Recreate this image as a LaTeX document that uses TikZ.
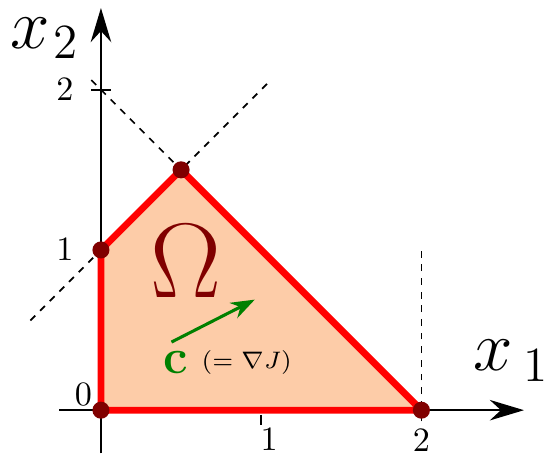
\documentclass[tikz,border=0pt]{standalone}
\usepackage{amsmath,amssymb}
\usetikzlibrary{arrows.meta}
\definecolor{regionfill}{RGB}{253,204,168}
\definecolor{darkred}{RGB}{128,0,0}
\definecolor{vecgreen}{RGB}{0,128,0}

\begin{document}
\begin{tikzpicture}[x=1.65cm, y=1.65cm, every node/.style={font=\normalsize}, >={Stealth[length=10pt,width=6pt]},
	guide/.style={dash pattern=on 2pt off 2pt, line width=0.5pt},
	edge/.style={red, line width=2pt, line join=round}]
	\useasboundingbox (-0.63,-0.27) rectangle (2.79,2.56);
	\coordinate (O) at (0,0);
	\coordinate (A) at (2,0);
	\coordinate (B) at (0.5,1.5);
	\coordinate (C) at (0,1);
	\fill[regionfill] (O) -- (A) -- (B) -- (C) -- cycle;
	% constraint lines
	\coordinate (g1) at (-0.44,0.56);
	\coordinate (g2) at (1.06,2.06);
	\coordinate (g3) at (-0.06,2.06);
	\coordinate (g4) at (2,-0.07);
	\coordinate (g5) at (2,1);
	\draw[guide] (g1) -- (g2);
	\draw[guide] (g3) -- (B);
	\draw[guide] (g4) -- (g5);
	% axes
	\coordinate (xs) at (-0.26,0);
	\coordinate (xe) at (2.64,0);
	\coordinate (ys) at (0,-0.27);
	\coordinate (ye) at (0,2.51);
	\draw[->, line width=0.6pt] (xs) -- (xe);
	\draw[->, line width=0.6pt] (ys) -- (ye);
	\draw[line width=0.6pt] (1,-0.03) -- (1,-0.09);
	\draw[line width=0.6pt] (-0.06,2) -- (0.06,2);
	\node (lx1) at (1.05,-0.18) {$1$};
	\node (lx2) at (2,-0.19) {$2$};
	\node (ly1) at (-0.225,1) {$1$};
	\node (ly2) at (-0.225,2) {$2$};
	\node (l0) at (-0.11,0.095) {$0$};
	\node[font=\huge, inner sep=0pt] (nx1) at (2.56,0.31) {$x_{\mkern4mu 1}$};
	\node[font=\huge, inner sep=0pt] (nx2) at (-0.35,2.32) {$x_{\mkern1mu 2}$};
	% feasible set
	\draw[edge] (O) -- (A) -- (B) -- (C) -- cycle;
	\foreach \p in {O,A,B,C} {\fill[darkred] (\p) circle (2.5pt);}
	\node[darkred, font=\Huge, scale=1.25, inner sep=0pt] (omega) at (0.53,0.93) {$\Omega$};
	\coordinate (c1) at (0.44,0.425);
	\coordinate (c2) at (0.96,0.69);
	\draw[->, vecgreen, line width=0.9pt, >={Stealth[length=7pt,width=5pt]}] (c1) -- (c2);
	\node[vecgreen, font=\Large, inner sep=1pt] (cvec) at (0.47,0.3) {$\mathbf{c}$};
	\node[font=\scriptsize, inner sep=1pt] (grad) at (0.91,0.3) {$(=\nabla J)$};
\end{tikzpicture}
\end{document}
